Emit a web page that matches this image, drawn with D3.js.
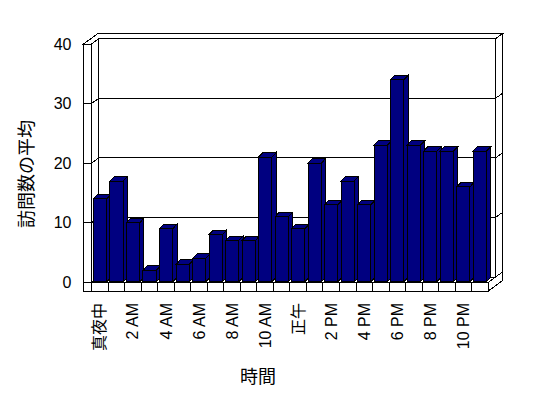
<!DOCTYPE html>
<html>
<head>
<meta charset="utf-8">
<script src="https://cdn.jsdelivr.net/npm/d3@7"></script>
<style>
  body { margin: 0; background: #fff; }
  svg text { font-family: "Liberation Sans", Arial, "Noto Sans CJK JP", sans-serif; fill: #000; }
</style>
</head>
<body>
<svg id="chart" width="548" height="398"></svg>
<script>
// hours of the day, one bar each
var hours = ["真夜中", "1 AM", "2 AM", "3 AM", "4 AM", "5 AM", "6 AM", "7 AM", "8 AM", "9 AM", "10 AM", "11 AM",
             "正午", "1 PM", "2 PM", "3 PM", "4 PM", "5 PM", "6 PM", "7 PM", "8 PM", "9 PM", "10 PM", "11 PM"];
// average number of visits per hour
var visits = [14, 17, 10, 2, 9, 3, 4, 8, 7, 7, 21, 11,
              9, 20, 13, 17, 13, 23, 34, 23, 22, 22, 16, 22];
// only every other hour gets a label
var hourLabels = ["真夜中", "2 AM", "4 AM", "6 AM", "8 AM", "10 AM", "正午", "2 PM", "4 PM", "6 PM", "8 PM", "10 PM"];
var yTicks = [0, 10, 20, 30, 40];
var yTitle = "訪問数の平均";
var xTitle = "時間";

var svg = d3.select("#chart");

// front plane of the plot box
var left = 91.5, right = 488.3, wallX = 83.5, floorBottom = 291;
// depth vector of the walls and of the bars
var dx = 7.3, dy = -5.3;
var bdx = 4.3, bdy = -4.5;

var y = d3.scaleLinear().domain([0, 40]).range([282.3, 44]);
var xCell = d3.scaleBand().domain(hours).range([left, right]);
var x = d3.scaleBand().domain(hours).range([left, right]).paddingInner(0.2).paddingOuter(0.12);

var g = svg.append("g")
    .attr("stroke", "#000")
    .attr("stroke-width", 1)
    .attr("shape-rendering", "crispEdges");

function poly(pts, fill) {
    g.append("polygon")
        .attr("points", pts.map(function(p) { return p.join(","); }).join(" "))
        .attr("fill", fill);
}

var y0 = y(0), yTop = y(40);

// back wall front, right side and top (with the left wall top)
poly([[left + dx, yTop + dy], [right + dx, yTop + dy], [right + dx, y0 + dy], [left + dx, y0 + dy]], "#fff");
poly([[right + dx, yTop + dy], [right + 2 * dx, yTop + 2 * dy], [right + 2 * dx, y0 + 2 * dy], [right + dx, y0 + dy]], "#fff");
poly([[wallX, yTop], [left, yTop], [left + dx, yTop + dy], [right + dx, yTop + dy],
      [right + 2 * dx, yTop + 2 * dy], [wallX + 2 * dx, yTop + 2 * dy]], "#fff");

// left wall: front edge and inner face
poly([[wallX, yTop], [left, yTop], [left, y0], [wallX, y0]], "#fff");
poly([[left, yTop], [left + dx, yTop + dy], [left + dx, y0 + dy], [left, y0]], "#fff");

// gridlines
yTicks.filter(function(v) { return v > 0 && v < 40; }).forEach(function(v) {
    var yy = y(v);
    g.append("polyline")
        .attr("fill", "none")
        .attr("points", [[wallX, yy], [left, yy], [left + dx, yy + dy], [right + dx, yy + dy], [right + 2 * dx, yy + 2 * dy]]
            .map(function(p) { return p.join(","); }).join(" "));
});

// floor: top, front and right side
poly([[left, y0], [right, y0], [right + dx, y0 + dy], [left + dx, y0 + dy]], "#fff");
poly([[wallX, y0], [right, y0], [right, floorBottom], [wallX, floorBottom]], "#fff");
poly([[right, y0], [right + 2 * dx, y0 + 2 * dy], [right + 2 * dx, floorBottom + 2 * dy], [right, floorBottom]], "#fff");

g.append("g").selectAll("line")
    .data(hours)
    .enter().append("line")
    .attr("x1", function(d) { return xCell(d); })
    .attr("x2", function(d) { return xCell(d); })
    .attr("y1", y0)
    .attr("y2", floorBottom);

// bars, left to right so each one hides the side of the one before
var w = x.bandwidth();
hours.forEach(function(h, i) {
    var x0 = x(h), yv = y(visits[i]), yb = y0 - 0.5;
    poly([[x0 + w, yv], [x0 + w + bdx, yv + bdy], [x0 + w + bdx, yb + bdy], [x0 + w, yb]], "#000080");
    poly([[x0, yv], [x0 + w, yv], [x0 + w + bdx, yv + bdy], [x0 + bdx, yv + bdy]], "#000080");
    poly([[x0, yv], [x0 + w, yv], [x0 + w, yb], [x0, yb]], "#000080");
});

// y axis labels
var yAxis = svg.append("g")
    .attr("transform", "translate(" + wallX + ",0)")
    .call(d3.axisLeft(y).tickValues(yTicks).tickSize(0).tickPadding(12));
yAxis.select(".domain").remove();
yAxis.selectAll("text").attr("font-size", 16).attr("font-family", null);

// x axis labels, rotated
var xAxis = svg.append("g")
    .attr("transform", "translate(0," + floorBottom + ")")
    .call(d3.axisBottom(xCell).tickValues(hourLabels).tickSize(0));
xAxis.select(".domain").remove();
xAxis.selectAll("text")
    .attr("font-size", 16)
    .attr("font-family", null)
    .attr("text-anchor", "end")
    .attr("transform", "rotate(-90)")
    .attr("x", -12)
    .attr("y", 0)
    .attr("dy", "0.35em");

// titles
svg.append("text")
    .attr("transform", "translate(27,174) rotate(-90)")
    .attr("text-anchor", "middle")
    .attr("dy", "0.35em")
    .attr("font-size", 18)
    .text(yTitle);

svg.append("text")
    .attr("x", 258)
    .attr("y", 377)
    .attr("text-anchor", "middle")
    .attr("dy", "0.35em")
    .attr("font-size", 18)
    .text(xTitle);
</script>
</body>
</html>
